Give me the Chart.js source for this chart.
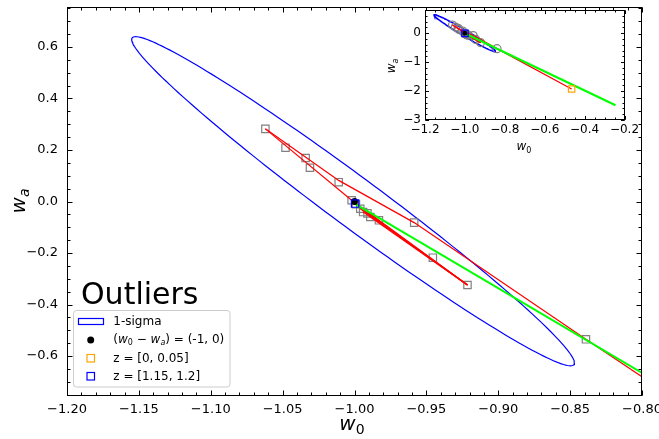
<!DOCTYPE html>
<html>
<head>
<meta charset="utf-8">
<script src="https://cdn.jsdelivr.net/npm/chart.js@4.4.0/dist/chart.umd.min.js"></script>
<style>
  html, body { margin: 0; padding: 0; background: #fff; }
  #wrap { position: relative; width: 659px; height: 439px; }
  #main { position: absolute; left: 0; top: 0; }
  #inset { position: absolute; left: 360px; top: 0; }
</style>
</head>
<body>
<div id="wrap">
  <canvas id="main" width="659" height="439"></canvas>
  <canvas id="inset" width="290" height="160"></canvas>
</div>
<script>
// tick values
const xTicks = [-1.2, -1.15, -1.1, -1.05, -1.0, -0.95, -0.9, -0.85, -0.8];
const yTicks = [-0.6, -0.4, -0.2, 0, 0.2, 0.4, 0.6];
const insetXTicks = [-1.2, -1.0, -0.8, -0.6, -0.4, -0.2];
const insetYTicks = [-3, -2, -1, 0];

// grey outlier samples (w0, wa)
const outW0 = [-1.062, -1.048, -1.034, -1.031, -1.011, -1.002, -0.999, -0.996, -0.994, -0.991, -0.989, -0.983, -0.9585, -0.9455, -0.9214, -0.839];
const outWa = [0.282, 0.209, 0.169, 0.131, 0.075, 0.005, -0.011, -0.028, -0.041, -0.046, -0.060, -0.073, -0.082, -0.218, -0.324, -0.535];

// red tracks
const trackW0 = [-1.062, -1.011, -0.9585, -0.839, -0.465];
const trackWa = [0.282, 0.082, -0.082, -0.535, -1.93];
const spurW0 = [-1.062, -1.002];
const spurWa = [0.282, 0.005];
const fanW0 = [-1.002, -0.999, -0.996, -0.994, -0.991];
const fanWa = [0.005, -0.011, -0.028, -0.041, -0.046];
const fanEnd = [-0.9214, -0.324];

// green track
const greenW0 = [-0.999, -0.245];
const greenWa = [-0.011, -2.49];

const fiducial = [-1.0, 0.0];
const lowZ = [-0.465, -1.93];
const highZ = [-0.9996, -0.008];

// 1-sigma contour: centre, half-width in w0, tilt, half-height in wa
const sigmaC = [-1.001, 0.001];
const sigmaA = 0.154;
const sigmaTilt = -4.075;
const sigmaH = 0.12;

Chart.defaults.font.family = 'DejaVu Sans';
Chart.defaults.color = '#000';

function pts(xs, ys) { return xs.map((x, i) => ({x: x, y: ys[i]})); }
function fmt(v, d) { return (v < -1e-9 ? '\u2212' : '') + Math.abs(v).toFixed(d); }

function buildDatasets(inset) {
  const ring = [];
  for (let i = 0; i <= 200; i++) {
    const t = 2 * Math.PI * i / 200;
    ring.push({
      x: sigmaC[0] + sigmaA * Math.cos(t),
      y: sigmaC[1] + sigmaTilt * sigmaA * Math.cos(t) + sigmaH * Math.sin(t)
    });
  }
  const line = (data, color, width, order) => ({
    data: data, showLine: true, borderColor: color, borderWidth: width,
    pointRadius: 0, fill: false, order: order
  });
  const sq = inset ? 4.5 : 5.2;
  return [
    line(ring, '#0000ff', inset ? 1.5 : 1.2, 6),
    {data: pts(outW0, outWa), pointStyle: inset ? 'circle' : 'rect', pointRadius: inset ? 4 : sq,
     borderColor: '#808080', backgroundColor: 'rgba(0,0,0,0)', borderWidth: 1.2, order: 5},
    line(pts(trackW0, trackWa), '#ff0000', 1.2, 3),
    line(pts(spurW0, spurWa), '#ff0000', 1.2, 3),
    ...fanW0.map((x, i) => line([{x: x, y: fanWa[i]}, {x: fanEnd[0], y: fanEnd[1]}], '#ff0000', 1.2, 3)),
    line(pts(greenW0, greenWa), '#00ff00', 2, 2),
    {data: [{x: fiducial[0], y: fiducial[1]}], pointStyle: 'circle', pointRadius: inset ? 2.5 : 3.5,
     backgroundColor: '#000', borderColor: '#000', borderWidth: 0, order: 1},
    {data: [{x: lowZ[0], y: lowZ[1]}], pointStyle: 'rect', pointRadius: sq,
     borderColor: '#ffa500', backgroundColor: 'rgba(0,0,0,0)', borderWidth: 1.2, order: 0},
    {data: [{x: highZ[0], y: highZ[1]}], pointStyle: 'rect', pointRadius: sq,
     borderColor: '#0000ff', backgroundColor: 'rgba(0,0,0,0)', borderWidth: 1.2, order: 0}
  ];
}

// text with italic letters and subscripts
function mathText(ctx, items, x, y, size, align) {
  const font = k => {
    if (k === 'i') return 'italic ' + size + 'px "DejaVu Sans"';
    if (k === 's') return Math.round(size * 0.7) + 'px "DejaVu Sans"';
    if (k === 'si') return 'italic ' + Math.round(size * 0.7) + 'px "DejaVu Sans"';
    return size + 'px "DejaVu Sans"';
  };
  let w = 0;
  items.forEach(([t, k]) => { ctx.font = font(k); w += ctx.measureText(t).width; });
  let cx = align === 'center' ? x - w / 2 : x;
  items.forEach(([t, k]) => {
    ctx.font = font(k);
    ctx.fillText(t, cx, (k === 's' || k === 'si') ? y + size * 0.22 : y);
    cx += ctx.measureText(t).width;
  });
}

function stepList(min, max, step) {
  const out = [];
  const start = Math.ceil(min / step - 1e-6);
  for (let i = start; i * step <= max + 1e-9; i++) out.push(i * step);
  return out;
}

function framePlugin(cfg) {
  return {
    id: 'frame',
    beforeDatasetsDraw(chart) {
      if (!cfg.fill) return;
      const a = chart.chartArea, ctx = chart.ctx;
      ctx.save();
      ctx.fillStyle = '#fff';
      ctx.fillRect(a.left, a.top, a.right - a.left, a.bottom - a.top);
      ctx.restore();
    },
    afterDatasetsDraw(chart) {
      const ctx = chart.ctx, a = chart.chartArea, x = chart.scales.x, y = chart.scales.y;
      const L = Math.round(a.left) + 0.5, R = Math.round(a.right) - 0.5;
      const T = Math.round(a.top) + 0.5, B = Math.round(a.bottom) - 0.5;
      ctx.save();
      ctx.strokeStyle = '#000';
      ctx.lineWidth = 1;
      ctx.beginPath();
      const xm = (vals, len) => vals.forEach(v => {
        const p = Math.round(x.getPixelForValue(v)) + 0.5;
        ctx.moveTo(p, B); ctx.lineTo(p, B - len);
        ctx.moveTo(p, T); ctx.lineTo(p, T + len);
      });
      const ym = (vals, len) => vals.forEach(v => {
        const p = Math.round(y.getPixelForValue(v)) + 0.5;
        ctx.moveTo(L, p); ctx.lineTo(L + len, p);
        ctx.moveTo(R, p); ctx.lineTo(R - len, p);
      });
      xm(stepList(x.min, x.max, cfg.xMinor), cfg.minor);
      ym(stepList(y.min, y.max, cfg.yMinor), cfg.minor);
      xm(cfg.xMajor, cfg.major);
      ym(cfg.yMajor, cfg.major);
      ctx.stroke();
      ctx.strokeRect(L, T, R - L, B - T);
      ctx.restore();
    }
  };
}

const annotations = {
  id: 'annotations',
  afterDraw(chart) {
    const ctx = chart.ctx;
    ctx.save();
    ctx.fillStyle = '#000';
    ctx.textBaseline = 'alphabetic';
    // axis titles
    mathText(ctx, [['w', 'i'], ['0', 's']], 352, 430, 20, 'center');
    ctx.save();
    ctx.translate(25, 201);
    ctx.rotate(-Math.PI / 2);
    mathText(ctx, [['w', 'i'], ['a', 'si']], 0, 0, 20, 'center');
    ctx.restore();

    ctx.font = '30px "DejaVu Sans"';
    ctx.fillText('Outliers', 81, 304);

    // legend
    ctx.beginPath();
    ctx.roundRect(73.5, 310.5, 156.5, 76.5, 3);
    ctx.fillStyle = 'rgba(255,255,255,0.8)';
    ctx.fill();
    ctx.strokeStyle = '#cccccc';
    ctx.lineWidth = 1;
    ctx.stroke();

    ctx.lineWidth = 1.2;
    ctx.strokeStyle = '#0000ff';
    ctx.strokeRect(78.5, 318.5, 25, 6);
    ctx.fillStyle = '#000';
    ctx.beginPath();
    ctx.arc(90.7, 340, 3.5, 0, 2 * Math.PI);
    ctx.fill();
    ctx.strokeStyle = '#ffa500';
    ctx.strokeRect(87, 354.5, 7.5, 7.5);
    ctx.strokeStyle = '#0000ff';
    ctx.strokeRect(87, 372.5, 7.5, 7.5);

    ctx.textBaseline = 'middle';
    ctx.fillStyle = '#000';
    ctx.font = '12px "DejaVu Sans"';
    ctx.fillText('1-sigma', 113.3, 322);
    mathText(ctx, [['(', 'n'], ['w', 'i'], ['0', 's'], [' \u2212 ', 'n'], ['w', 'i'], ['a', 'si'], [')', 'n'], [' = (-1, 0)', 'n']], 113.3, 340, 12, 'left');
    ctx.font = '12px "DejaVu Sans"';
    ctx.fillText('z = [0, 0.05]', 113.3, 358.5);
    ctx.fillText('z = [1.15, 1.2]', 113.3, 376.5);
    ctx.restore();
  }
};

const insetTitles = {
  id: 'insetTitles',
  afterDraw(chart) {
    const ctx = chart.ctx;
    ctx.save();
    ctx.fillStyle = '#000';
    ctx.textBaseline = 'alphabetic';
    mathText(ctx, [['w', 'i'], ['0', 's']], 164, 150, 12, 'center');
    ctx.translate(35, 66);
    ctx.rotate(-Math.PI / 2);
    mathText(ctx, [['w', 'i'], ['a', 'si']], 0, 0, 12, 'center');
    ctx.restore();
  }
};

function axisOpts(min, max, ticks, dec, size, pad, fit) {
  return {
    type: 'linear', min: min, max: max,
    afterBuildTicks: s => { s.ticks = ticks.map(v => ({value: v})); },
    afterFit: s => {
      fit(s);
      s.paddingLeft = 0; s.paddingRight = 0; s.paddingTop = 0; s.paddingBottom = 0;
    },
    grid: {display: false, drawTicks: false},
    border: {display: false},
    ticks: {padding: pad, font: {size: size}, color: '#000', autoSkip: false, maxRotation: 0,
            callback: v => fmt(v, dec)}
  };
}

new Chart(document.getElementById('main'), {
  type: 'scatter',
  data: {datasets: buildDatasets(false)},
  options: {
    responsive: false, animation: false, events: [],
    layout: {padding: {left: 0, right: 17, top: 7, bottom: 0}},
    plugins: {legend: {display: false}, tooltip: {enabled: false}},
    scales: {
      x: axisOpts(-1.2, -0.8, xTicks, 2, 13, 6, s => { s.height = 43; }),
      y: axisOpts(-0.755, 0.755, yTicks, 1, 13, 9, s => { s.width = 67; })
    }
  },
  plugins: [framePlugin({xMajor: xTicks, yMajor: yTicks, xMinor: 0.01, yMinor: 0.05, major: 5, minor: 3}), annotations]
});

new Chart(document.getElementById('inset'), {
  type: 'scatter',
  data: {datasets: buildDatasets(true)},
  options: {
    responsive: false, animation: false, events: [],
    layout: {padding: {left: 0, right: 25.5, top: 10, bottom: 0}},
    plugins: {legend: {display: false}, tooltip: {enabled: false}},
    scales: {
      x: axisOpts(-1.2, -0.2, insetXTicks, 1, 12, 3, s => { s.height = 40; }),
      y: axisOpts(-3, 0.8, insetYTicks, 0, 12, 4, s => { s.width = 65; })
    }
  },
  plugins: [framePlugin({fill: true, xMajor: insetXTicks, yMajor: insetYTicks, xMinor: 0.05, yMinor: 0.2, major: 3.5, minor: 2}), insetTitles]
});
</script>
</body>
</html>
